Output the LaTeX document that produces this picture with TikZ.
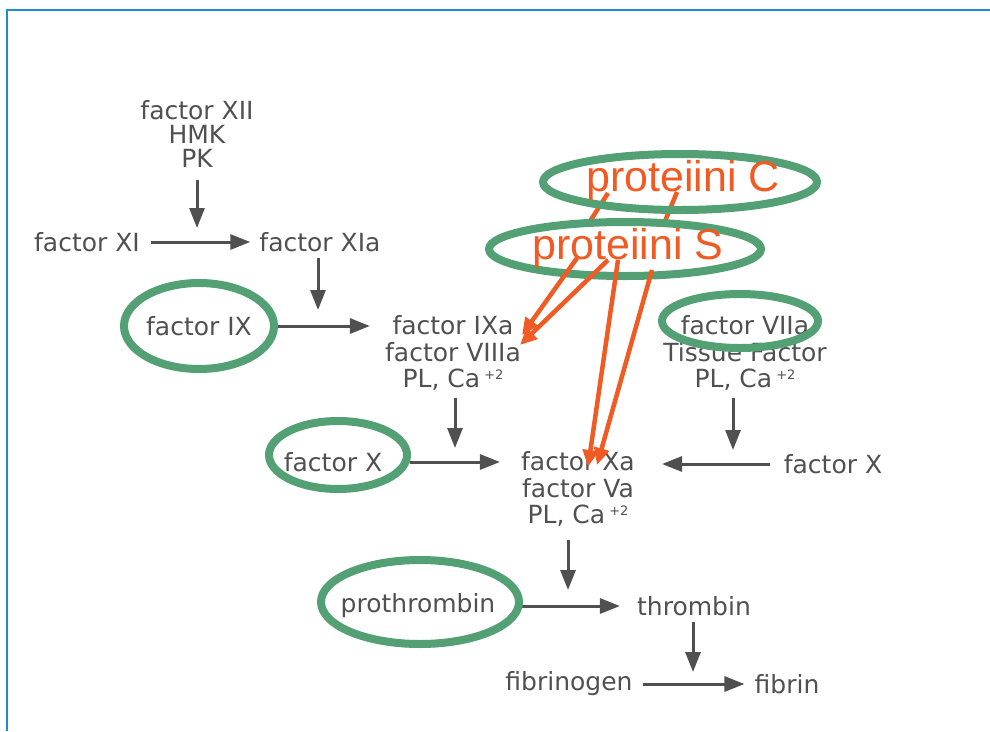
\documentclass[tikz,border=0pt]{standalone}
\usepackage{fontspec}
\usetikzlibrary{arrows.meta}
\newfontfamily\graysans{DejaVu Sans}
\newfontfamily\redsans{Liberation Sans}
\definecolor{txtgray}{RGB}{80,80,80}
\definecolor{ringgreen}{RGB}{82,160,115}
\definecolor{protorange}{RGB}{240,90,35}
\definecolor{frameblue}{RGB}{30,140,210}
\newcommand{\capl}{Ca\,\raisebox{8pt}{\fontsize{13}{13}\selectfont +2}}

\begin{document}
\begin{tikzpicture}[x=1pt,y=-1pt,
  lab/.style={font=\graysans\fontsize{25}{26.5}\selectfont,text=txtgray,inner sep=0pt,align=center},
  prot/.style={font=\redsans\fontsize{43}{43}\selectfont,text=protorange,inner sep=0pt},
  arr/.style={draw=txtgray,line width=3pt,-{Triangle[length=20pt,width=15pt]}},
  ring/.style={draw=ringgreen,line width=8pt},
  inh/.style={draw=protorange,line width=4.5pt,-{Triangle[length=17pt,width=15pt]}}]
\useasboundingbox (0,0) rectangle (990,731);
\draw[frameblue,line width=2pt] (7,731)--(7,10)--(990,10);

% cascade
\node[lab,font=\graysans\fontsize{25}{24}\selectfont] (xii) at (197,134) {factor XII\\HMK\\PK};
\node[lab] (xi) at (87,242) {factor XI};
\node[lab] (xia) at (320,242) {factor XIa};
\node[lab] (ix) at (199,326) {factor IX};
\node[lab] (ixa) at (453,353) {factor IXa\\factor VIIIa\\PL, \capl};
\node[lab] (viia) at (745,353) {factor VIIa\\Tissue Factor\\PL, \capl};
\node[lab] (x) at (333,462) {factor X};
\node[lab] (xr) at (833,464) {factor X};
\node[lab] (xa) at (578,489) {factor Xa\\factor Va\\PL, \capl};
\node[lab] (pro) at (418,606) {prothrombin};
\node[lab] (thr) at (694,606) {thrombin};
\node[lab] (fgn) at (569,684) {fibrinogen};
\node[lab] (fib) at (787,684) {fibrin};

\coordinate (j1) at (197,242);
\coordinate (j2) at (318,326);
\coordinate (j3) at (455,462);
\coordinate (j4) at (733,464);
\coordinate (j5) at (568,606);
\coordinate (j6) at (693,684);

\draw[arr,shorten <=11pt,shorten >=9pt] (xi.east)--(xia.west);
\draw[arr,shorten <=26pt,shorten >=15pt] (ix.east)--(ix.east-|ixa.west);
\draw[arr,shorten <=28pt,shorten >=21pt] (x.east)--(x.east-|xa.west);
\draw[arr,shorten <=14pt,shorten >=27pt] (xr.west)--(xr.west-|xa.east);
\draw[arr,shorten <=26pt,shorten >=17pt] (pro.east)--(thr.west);
\draw[arr,shorten <=10pt,shorten >=10pt] (fgn.east)--(fib.west);

\draw[arr,shorten <=12pt,shorten >=14pt] (xii.south)--(j1);
\draw[arr,shorten <=6pt,shorten >=16pt] (xia.south-|j2)--(j2);
\draw[arr,shorten <=7pt,shorten >=14pt] (ixa.south-|j3)--(j3);
\draw[arr,shorten <=7pt,shorten >=14pt] (viia.south-|j4)--(j4);
\draw[arr,shorten <=13pt,shorten >=16pt] (xa.south-|j5)--(j5);
\draw[arr,shorten <=6pt,shorten >=12pt] (thr.south-|j6)--(j6);

% protein C and S
\coordinate (c1) at (608,193);
\coordinate (c2) at (587,226);
\coordinate (c3) at (677,192);
\coordinate (c4) at (663,226);
\draw[protorange,line width=4.5pt] (c1)--(c2) (c3)--(c4);

\draw[ring] (680,182) ellipse [x radius=137pt,y radius=28pt];
\draw[ring] (625,249) ellipse [x radius=136pt,y radius=27pt];
\draw[ring] (199,326) ellipse [x radius=75pt,y radius=43pt];
\draw[ring] (740,321) ellipse [x radius=78pt,y radius=27pt];
\draw[ring] (338,455) ellipse [x radius=69pt,y radius=34pt];
\draw[ring] (420,602) ellipse [x radius=99pt,y radius=42pt];

\node[prot] (pc) at (683,180) {proteiini C};
\node[prot] (ps) at (628,248) {proteiini S};

\coordinate (s1) at (577,258);
\coordinate (s2) at (608,260);
\coordinate (s3) at (618,260);
\coordinate (s4) at (652,270);
\coordinate (t1) at (522,335);
\coordinate (t2) at (520,345);
\coordinate (t3) at (588,467);
\coordinate (t4) at (597,465);
\draw[inh] (s1)--(t1);
\draw[inh] (s2)--(t2);
\draw[inh] (s3)--(t3);
\draw[inh] (s4)--(t4);
\end{tikzpicture}
\end{document}
